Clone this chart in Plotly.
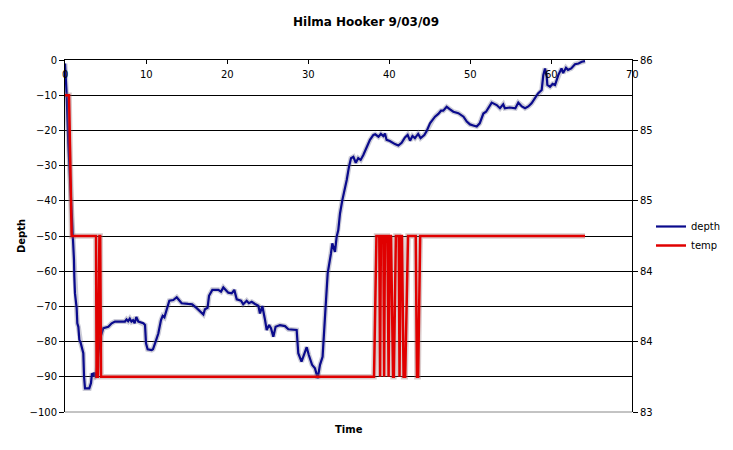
import plotly.graph_objects as go

# ---- data ----
time_depth = [0.0, 0.2, 0.41, 0.62, 0.82, 0.95, 1.11, 1.15, 1.23, 1.44, 1.52, 1.65, 1.77, 1.93, 2.06, 2.26,
              2.35, 2.47, 3.0, 3.21, 3.33, 3.5, 3.62, 3.78, 3.9, 4.1, 4.4, 4.73, 5.35, 5.76, 6.17, 7.4,
              7.6, 7.8, 8.0, 8.2, 8.4, 8.6, 8.8, 9.05, 9.67, 9.88, 10.0, 10.2, 10.7, 10.86, 11.19, 11.52,
              11.85, 12.06, 12.27, 12.55, 12.88, 13.37, 13.79, 14.07, 14.4, 15.2, 15.7, 16.26, 16.87, 17.08,
              17.28, 17.6, 17.78, 18.19, 18.93, 19.26, 19.55, 19.84, 20.16, 20.58, 20.9, 21.2, 21.73, 22.0,
              22.43, 22.7, 23.05, 23.46, 23.87, 24.07, 24.36, 24.7, 24.9, 25.2, 25.43, 25.72, 26.0, 26.54,
              27.16, 27.57, 27.99, 28.4, 28.6, 28.8, 29.2, 29.5, 29.84, 30.1, 30.5, 30.86, 31.2, 31.48,
              31.8, 32.1, 32.43, 32.84, 33.0, 33.33, 33.54, 33.74, 33.95, 34.24, 34.49, 34.78, 35.06, 35.31,
              35.6, 35.9, 36.2, 36.5, 36.83, 37.24, 37.65, 38.07, 38.3, 38.7, 39.0, 39.3, 39.5, 39.7,
              40.1, 40.74, 41.15, 41.56, 41.97, 42.3, 42.6, 42.9, 43.2, 43.6, 43.9, 44.36, 44.65, 45.06,
              45.35, 45.68, 46.09, 46.42, 46.7, 47.12, 47.53, 47.94, 48.56, 48.8, 49.2, 49.6, 50.0, 50.4,
              50.83, 51.2, 51.65, 51.98, 52.26, 52.68, 53.3, 53.7, 54.1, 54.3, 54.9, 55.6, 55.96, 56.4,
              56.8, 57.2, 57.6, 58.0, 58.4, 58.85, 59.05, 59.26, 59.47, 59.55, 59.88, 60.2, 60.5, 60.9,
              61.3, 61.5, 61.85, 62.1, 62.5, 62.96, 63.4, 63.8, 64.2]
depth = [-1, -9.5, -23.7, -33, -42.6, -50.2, -56.8, -61.5, -66.3, -70.5, -74.8, -75.8, -79.5, -80.3, -81.4, -83.3,
         -90, -93.3, -93.3, -91.8, -89, -89.8, -88.8, -89.8, -89.5, -83.3, -78.6, -76.2, -75.8, -74.8, -74.3, -74.3,
         -73.7, -74.2, -73.5, -74.3, -73.9, -74.8, -73, -74.3, -74.8, -75.3, -80.5, -82.2, -82.4, -82.2, -80, -77.7,
         -73.9, -72.7, -73.1, -71, -68.4, -68.2, -67.4, -68.2, -69.1, -69.3, -69.4, -70.5, -72, -72.3,
         -70.8, -70.4, -67, -65.3, -65.3, -65.8, -64.6, -65.3, -66.1, -66.3, -65.3, -68, -68.4, -69.4,
         -68.4, -69.1, -68.7, -69.3, -69.8, -72, -69.9, -73.9, -76.7, -75.3, -76.2, -78.6, -75.8, -75.3,
         -75.6, -76.5, -76.5, -76.7, -76.7, -83.3, -85.7, -83.8, -81.6, -83.8, -86.6, -87.6, -90.4, -86.6,
         -84.3, -72.9, -60.6, -54.9, -52.1, -54.5, -50.2, -48.3, -43.6, -39.8, -37.4, -34.1, -30.3, -27.9,
         -27.5, -29.2, -27.9, -28.4, -27, -24.6, -22.7, -21.3, -21.1, -21.8, -21.0, -21.6, -20.9, -22.7,
         -23, -23.9, -24.3, -23.5, -22, -21.3, -22.9, -21.6, -22.2, -21, -22.2, -21.3, -20.2, -18,
         -17.2, -16.1, -15.3, -14.4, -14.4, -13.3, -14, -14.7, -15.1, -15.4, -16.1, -17.5, -18.3, -18.6,
         -18.9, -18.0, -15.2, -14.7, -13.7, -12.1, -12.8, -13.7, -12.6, -13.7, -13.5, -13.7, -12.1, -13.2,
         -13.7, -13.2, -12.3, -10.9, -9.5, -8.5, -4.3, -2.4, -4.7, -7.1, -7.6, -6.8, -7.1, -4.3,
         -2.4, -3.7, -2.2, -2.8, -2.4, -1.2, -1.0, -0.5, -0.3]

time_temp = [0.0, 0.5, 0.82, 3.83, 3.9, 4.05, 4.25, 4.35, 4.45, 38.15, 38.45, 38.8, 38.9, 39.0, 39.3, 39.4,
             39.5, 39.8, 39.95, 40.1, 40.25, 40.5, 40.6, 40.85, 41.2, 41.3, 41.45, 41.6, 41.8, 42.0, 42.35,
             43.3, 43.45, 43.6, 43.85, 64.2]
temp = [85.7, 85.7, 84.5, 84.5, 83.3, 83.3, 84.5, 84.5, 83.3, 83.3, 84.5, 84.5, 83.3, 84.5, 84.5, 83.3,
        84.5, 84.5, 83.3, 84.5, 84.5, 83.3, 83.3, 84.5, 84.5, 83.3, 84.5, 84.5, 83.3, 83.3, 84.5,
        84.5, 83.3, 83.3, 84.5, 84.5]

depth_ticks = [0, -10, -20, -30, -40, -50, -60, -70, -80, -90, -100]
temp_tickvals = [83, 83.6, 84.2, 84.8, 85.4, 86]
temp_ticktext = ["83", "84", "84", "85", "85", "86"]
time_ticks = [0, 10, 20, 30, 40, 50, 60, 70]

TICKFONT = dict(family="DejaVu Sans", size=10, color="black")

fig = go.Figure()
# soft shadows (same data, wider translucent line underneath)
fig.add_trace(go.Scatter(x=time_depth, y=depth, mode="lines", showlegend=False, hoverinfo="skip",
                         line=dict(color="rgba(110,110,140,0.35)", width=5)))
fig.add_trace(go.Scatter(x=time_temp, y=temp, mode="lines", yaxis="y2", showlegend=False, hoverinfo="skip",
                         line=dict(color="rgba(150,110,110,0.35)", width=5.5)))
fig.add_trace(go.Scatter(x=time_depth, y=depth, mode="lines", name="depth",
                         line=dict(color="#0a0a8c", width=2.2)))
fig.add_trace(go.Scatter(x=time_temp, y=temp, mode="lines", name="temp", yaxis="y2",
                         line=dict(color="#e00000", width=2.5)))

# x tick labels sit just under the top axis line (inside the plot)
annotations = [dict(text=str(t), xref="x", yref="paper", x=t, y=(412 - 74) / 352,
                    xanchor="center", yanchor="middle", showarrow=False, font=TICKFONT)
               for t in time_ticks]
annotations.append(dict(text="<b>Time</b>", xref="paper", yref="paper", x=0.5, y=-(430 - 412) / 352,
                        xanchor="center", yanchor="middle", showarrow=False,
                        font=dict(family="DejaVu Sans", size=10, color="black")))

fig.update_layout(
    width=733, height=450,
    margin=dict(l=65, r=101, t=60, b=38, autoexpand=False),
    paper_bgcolor="white", plot_bgcolor="white",
    title=dict(text="<b>Hilma Hooker 9/03/09</b>", x=366 / 733, xanchor="center",
               y=1 - 22 / 450, yanchor="middle", yref="container",
               font=dict(family="DejaVu Sans", size=12, color="black")),
    xaxis=dict(range=[0, 70], tickvals=time_ticks, side="top", ticks="inside", ticklen=4,
               tickcolor="black", showticklabels=False, showline=True, linecolor="black",
               linewidth=1, showgrid=False, zeroline=False),
    yaxis=dict(range=[-100, 0], tickvals=depth_ticks, ticks="outside", ticklen=5, tickcolor="black",
               showline=True, linecolor="black", linewidth=1, showgrid=True, gridcolor="black",
               gridwidth=1, zeroline=False, tickfont=TICKFONT,
               title=dict(text="<b>Depth</b>", font=dict(family="DejaVu Sans", size=10, color="black"),
                          standoff=2)),
    yaxis2=dict(range=[83, 86], overlaying="y", side="right", tickvals=temp_tickvals,
                ticktext=temp_ticktext, ticks="outside", ticklen=5, tickcolor="black",
                showline=True, linecolor="black", linewidth=1, showgrid=False, zeroline=False,
                tickfont=TICKFONT),
    legend=dict(x=1.0335, xanchor="left", y=0.5, yanchor="middle", bgcolor="rgba(0,0,0,0)",
                font=dict(family="DejaVu Sans", size=10, color="black"), tracegroupgap=0),
    annotations=annotations,
    shapes=[dict(type="line", xref="x domain", yref="y domain", x0=0, x1=1, y0=0, y1=0,
                 line=dict(color="#888888", width=1))],
)

fig.write_html("out.html", config={"displayModeBar": False},
               post_script="document.body.style.margin='0';")
